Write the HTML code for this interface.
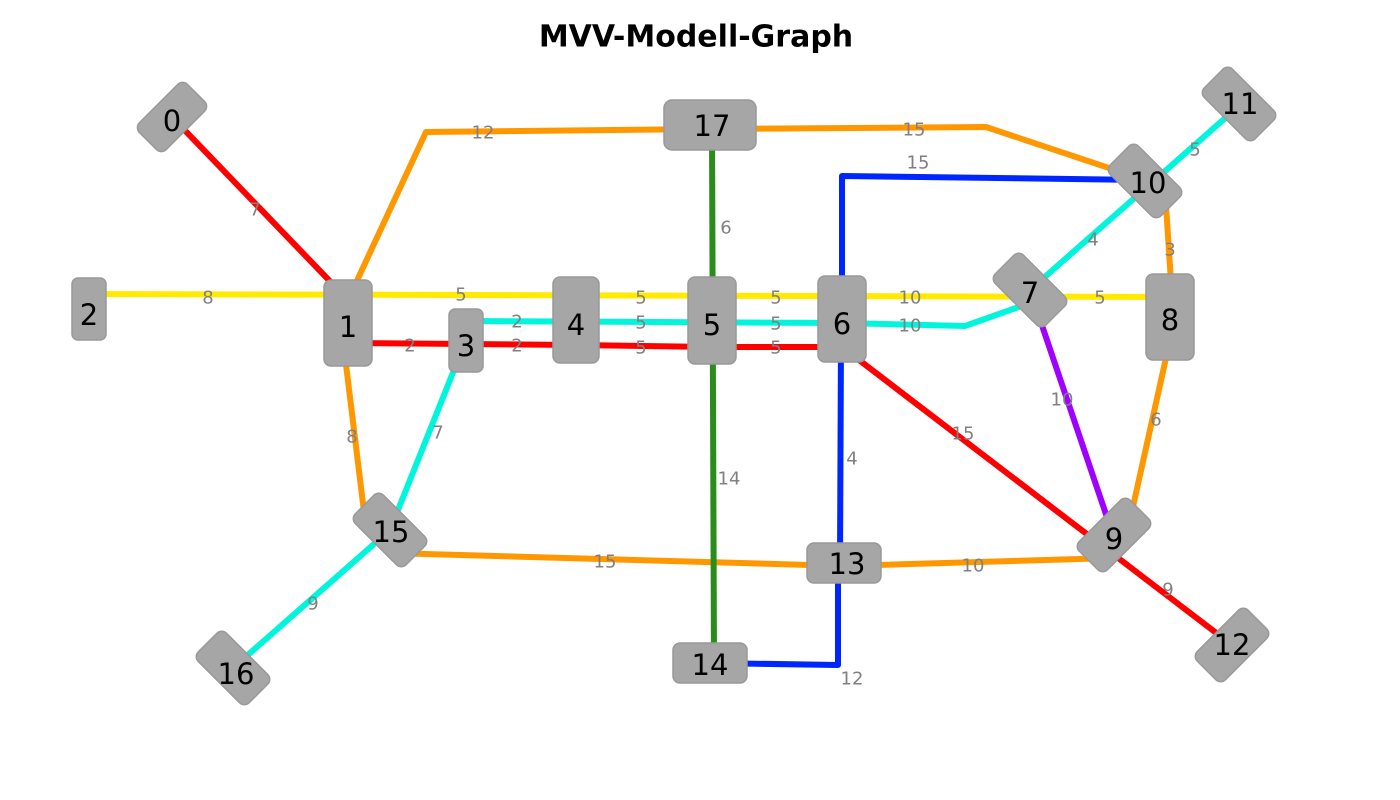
<!DOCTYPE html>
<html><head><meta charset="utf-8"><style>
body{margin:0;background:#fff}
svg{display:block}
.l{font-family:"DejaVu Sans","Liberation Sans",sans-serif;font-size:18px;fill:#808080;text-anchor:middle;dominant-baseline:central}
.n{font-family:"DejaVu Sans","Liberation Sans",sans-serif;font-size:29px;fill:#000;text-anchor:middle;dominant-baseline:central}
rect{fill:#a6a6a6;stroke:#999;stroke-width:1.5}
polyline,line{fill:none;stroke-width:6;stroke-linejoin:round}
</style></head><body>
<svg width="1400" height="800" viewBox="0 0 1400 800">
<text x="696" y="37" font-family="DejaVu Sans,Liberation Sans,sans-serif" font-weight="bold" font-size="30" text-anchor="middle" dominant-baseline="central">MVV-Modell-Graph</text>
<g>
<line x1="172" y1="117" x2="348" y2="300" stroke="#ff0000"/>
<line x1="89" y1="294" x2="1172" y2="297" stroke="#ffea00"/>
<polyline points="466,321 842,323 965,326 1030,303" stroke="#00f5dc"/>
<line x1="1030" y1="290" x2="1240" y2="105" stroke="#00f5dc"/>
<line x1="466" y1="340" x2="390" y2="530" stroke="#00f5dc"/>
<line x1="390" y1="530" x2="233" y2="668" stroke="#00f5dc"/>
<polyline points="348,343 576,345 712,347 842,347" stroke="#ff0000"/>
<line x1="842" y1="347" x2="1232" y2="645" stroke="#ff0000"/>
<polyline points="348,300 426,132 710,129 986,127 1145,180" stroke="#ff9800"/>
<line x1="1165" y1="190" x2="1172" y2="297" stroke="#ff9800"/>
<line x1="1170" y1="340" x2="1130" y2="520" stroke="#ff9800"/>
<line x1="343" y1="340" x2="365" y2="520" stroke="#ff9800"/>
<polyline points="390,553 844,566 1113,558" stroke="#ff9800"/>
<line x1="712" y1="129" x2="714" y2="663" stroke="#2a8c1a"/>
<polyline points="842,297 842,176 1145,180" stroke="#0026ff"/>
<line x1="841" y1="340" x2="840" y2="563" stroke="#0026ff"/>
<polyline points="838,563 838,665 710,663" stroke="#0026ff"/>
<line x1="1030" y1="290" x2="1113" y2="535" stroke="#a000ff"/>
</g>
<g>
<text class="l" x="255" y="210">7</text>
<text class="l" x="208" y="298">8</text>
<text class="l" x="461" y="295">5</text>
<text class="l" x="641" y="298">5</text>
<text class="l" x="776" y="298">5</text>
<text class="l" x="910" y="298">10</text>
<text class="l" x="1100" y="298">5</text>
<text class="l" x="517" y="322">2</text>
<text class="l" x="641" y="323">5</text>
<text class="l" x="776" y="324">5</text>
<text class="l" x="910" y="326">10</text>
<text class="l" x="1093" y="240">4</text>
<text class="l" x="1195" y="150">5</text>
<text class="l" x="438" y="433">7</text>
<text class="l" x="313" y="604">9</text>
<text class="l" x="410" y="346">2</text>
<text class="l" x="517" y="346">2</text>
<text class="l" x="641" y="348">5</text>
<text class="l" x="776" y="348">5</text>
<text class="l" x="963" y="434">15</text>
<text class="l" x="1168" y="590">9</text>
<text class="l" x="483" y="133">12</text>
<text class="l" x="914" y="130">15</text>
<text class="l" x="1170" y="250">3</text>
<text class="l" x="1156" y="420">6</text>
<text class="l" x="352" y="437">8</text>
<text class="l" x="605" y="562">15</text>
<text class="l" x="973" y="566">10</text>
<text class="l" x="726" y="228">6</text>
<text class="l" x="729" y="479">14</text>
<text class="l" x="918" y="163">15</text>
<text class="l" x="852" y="459">4</text>
<text class="l" x="852" y="679">12</text>
<text class="l" x="1062" y="400">10</text>
</g>
<g>
<g transform="translate(172,117) rotate(-45)"><rect x="-34" y="-19" width="68" height="38" rx="7"/></g><text class="n" x="172" y="121">0</text>
<rect x="324" y="280" width="48" height="86" rx="7"/><text class="n" x="348" y="327">1</text>
<rect x="72" y="278" width="34" height="62" rx="6"/><text class="n" x="89" y="315">2</text>
<rect x="449" y="309" width="34" height="63" rx="6"/><text class="n" x="466" y="346">3</text>
<rect x="553" y="277" width="46" height="86" rx="7"/><text class="n" x="576" y="325">4</text>
<rect x="688" y="277" width="48" height="87" rx="7"/><text class="n" x="712" y="325">5</text>
<rect x="818" y="276" width="48" height="86" rx="7"/><text class="n" x="842" y="324">6</text>
<g transform="translate(1030,290) rotate(45)"><rect x="-36" y="-20" width="72" height="40" rx="7"/></g><text class="n" x="1030" y="293">7</text>
<rect x="1146" y="274" width="48" height="86" rx="7"/><text class="n" x="1170" y="320">8</text>
<g transform="translate(1114,535) rotate(-45)"><rect x="-36" y="-20" width="72" height="40" rx="7"/></g><text class="n" x="1114" y="539">9</text>
<g transform="translate(1145,181) rotate(45)"><rect x="-36" y="-20" width="72" height="40" rx="7"/></g><text class="n" x="1148" y="183">10</text>
<g transform="translate(1239,104) rotate(45)"><rect x="-36" y="-20" width="72" height="40" rx="7"/></g><text class="n" x="1240" y="104">11</text>
<g transform="translate(1232,645) rotate(-45)"><rect x="-36" y="-20" width="72" height="40" rx="7"/></g><text class="n" x="1232" y="645">12</text>
<rect x="807" y="543" width="74" height="40" rx="7"/><text class="n" x="847" y="564">13</text>
<rect x="673" y="643" width="74" height="40" rx="7"/><text class="n" x="710" y="665">14</text>
<g transform="translate(390,530) rotate(45)"><rect x="-36" y="-20" width="72" height="40" rx="7"/></g><text class="n" x="391" y="532">15</text>
<g transform="translate(233,668) rotate(45)"><rect x="-36" y="-20" width="72" height="40" rx="7"/></g><text class="n" x="236" y="674">16</text>
<rect x="664" y="100" width="92" height="50" rx="8"/><text class="n" x="712" y="126">17</text>
</g>
</svg>
</body></html>
